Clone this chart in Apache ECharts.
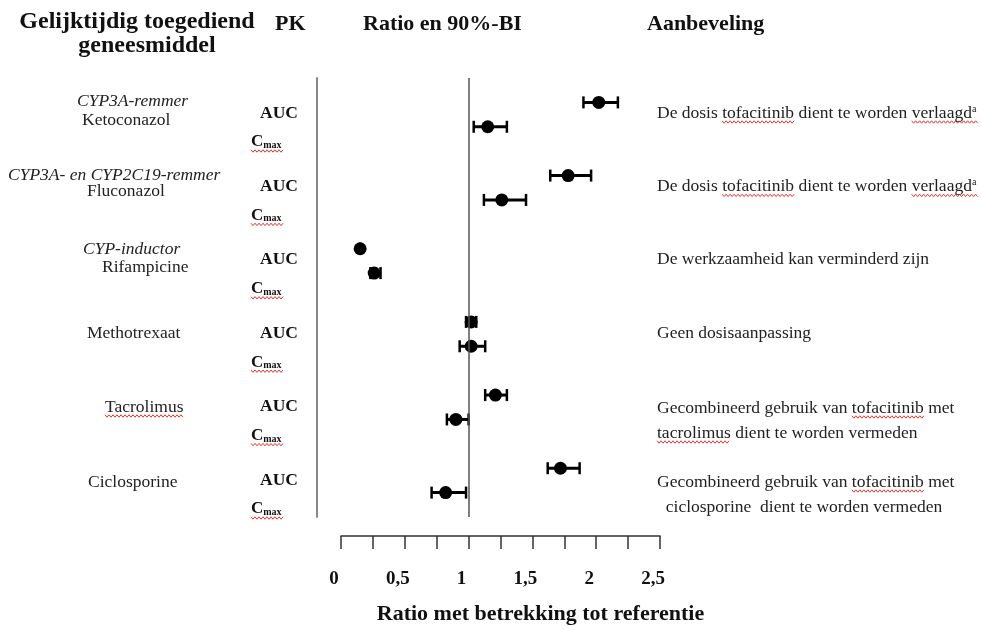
<!DOCTYPE html>
<html><head><meta charset="utf-8">
<script src="https://cdn.jsdelivr.net/npm/echarts@6/dist/echarts.min.js"></script>
<style>html,body{margin:0;padding:0;background:#fff}#c{width:981px;height:630px}</style>
</head><body><div id="c"></div>
<script>
// ---- data ----
const drugs = ['Ketoconazol', 'Fluconazol', 'Rifampicine', 'Methotrexaat', 'Tacrolimus', 'Ciclosporine'];
const drugClass = ['CYP3A-remmer', 'CYP3A- en CYP2C19-remmer', 'CYP-inductor', '', '', ''];
const pkParams = ['AUC', 'Cmax'];
const aucRatio = [2.02, 1.78, 0.15, 1.02, 1.21, 1.72];
const aucLow   = [1.90, 1.64, 0.15, 0.98, 1.13, 1.62];
const aucHigh  = [2.17, 1.96, 0.15, 1.06, 1.30, 1.87];
const cmaxRatio = [1.15, 1.26, 0.26, 1.02, 0.90, 0.82];
const cmaxLow   = [1.04, 1.12, 0.23, 0.93, 0.83, 0.71];
const cmaxHigh  = [1.30, 1.45, 0.31, 1.13, 1.00, 0.98];
const xTicks = [0, 0.5, 1, 1.5, 2, 2.5];
const advice = [
  ['De dosis tofacitinib dient te worden verlaagd{sup|a}'],
  ['De dosis tofacitinib dient te worden verlaagd{sup|a}'],
  ['De werkzaamheid kan verminderd zijn'],
  ['Geen dosisaanpassing'],
  ['Gecombineerd gebruik van tofacitinib met', 'tacrolimus dient te worden vermeden'],
  ['Gecombineerd gebruik van tofacitinib met', '  ciclosporine  dient te worden vermeden']
];
const flaggedWords = ['tofacitinib', 'verlaagd', 'tacrolimus'];

// ---- build ----
const SERIF = '"Liberation Serif", "Times New Roman", serif';
const BODY = 17.5;
const points = [], bars = [];
drugs.forEach((d, g) => {
  points.push([aucRatio[g], 3 * g]);
  points.push([cmaxRatio[g], 3 * g + 1]);
  bars.push([aucLow[g], aucHigh[g], 3 * g]);
  bars.push([cmaxLow[g], cmaxHigh[g], 3 * g + 1]);
});

const ctx = document.createElement('canvas').getContext('2d');
function tw(s, font) { ctx.font = font; return ctx.measureText(s).width; }
const graphics = [];
function raw(x, y, text, style) {
  graphics.push({type: 'text', x: x, y: y, silent: true, z: 10,
    style: Object.assign({text: text, fontFamily: SERIF, fontSize: BODY, fill: '#222', verticalAlign: 'middle', align: 'left'}, style || {})});
}
function wavy(x1, x2, y) {
  const pts = [];
  for (let x = x1, i = 0; x <= x2 + 0.1; x += 2, i++) pts.push([x, y + (i % 2 ? 1.2 : -1.2)]);
  graphics.push({type: 'polyline', silent: true, z: 9, shape: {points: pts}, style: {stroke: '#e8322c', lineWidth: 1, fill: null}});
}
function flag(x, y, line) {
  const font = BODY + 'px ' + SERIF;
  const plain = line.replace('{sup|a}', '');
  flaggedWords.forEach(w => {
    const idx = plain.indexOf(w);
    if (idx < 0) return;
    const x1 = x + tw(plain.slice(0, idx), font);
    let x2 = x1 + tw(w, font);
    if (line.indexOf(w + '{sup|a}') >= 0) x2 += 6;
    wavy(x1, x2, y + 9);
  });
}
const GROUP_Y = [0, 73.4, 146.8, 220.2, 293.6, 367];

// headers
raw(137, 22, 'Gelijktijdig toegediend', {fontWeight: 'bold', fontSize: 24, align: 'center', fill: '#111'});
raw(147, 46, 'geneesmiddel', {fontWeight: 'bold', fontSize: 24, align: 'center', fill: '#111'});
raw(275, 24, 'PK', {fontWeight: 'bold', fontSize: 22, fill: '#111'});
raw(363, 24, 'Ratio en 90%-BI', {fontWeight: 'bold', fontSize: 22, fill: '#111'});
raw(647, 24, 'Aanbeveling', {fontWeight: 'bold', fontSize: 22, fill: '#111'});

// left labels
const classPos = [[77, 101], [8, 175], [83, 249]];
const drugPos = [[82, 120], [87, 191], [102, 267], [87, 333], [105, 407], [88, 482]];
drugs.forEach((d, g) => {
  if (drugClass[g]) raw(classPos[g][0], classPos[g][1], drugClass[g], {fontStyle: 'italic'});
  raw(drugPos[g][0], drugPos[g][1], d);
  if (d === 'Tacrolimus') wavy(drugPos[g][0], drugPos[g][0] + tw(d, BODY + 'px ' + SERIF), drugPos[g][1] + 9);
  const yA = 113 + GROUP_Y[g];
  const yC = 142 + GROUP_Y[g];
  raw(298, yA, pkParams[0], {fontWeight: 'bold', align: 'right', fill: '#111'});
  raw(251, yC, '{c|C}{s|max}', {rich: {c: {fontFamily: SERIF, fontSize: 17, fontWeight: 'bold', fill: '#111'},
    s: {fontFamily: SERIF, fontSize: 10, fontWeight: 'bold', fill: '#111', verticalAlign: 'bottom', padding: [6, 0, 0, 0]}}});
  wavy(251, 284, yC + 9);
  // advice
  const ay = g === 4 ? 408 : g === 5 ? 482 : 113 + GROUP_Y[g];
  advice[g].forEach((line, li) => {
    raw(657, ay + li * 25, line, {rich: {sup: {fontFamily: SERIF, fontSize: 10, fill: '#222', verticalAlign: 'top', padding: [0, 0, 8, 0]}}});
    flag(657, ay + li * 25, line);
  });
});

const chart = echarts.init(document.getElementById('c'));
chart.setOption({
  animation: false,
  backgroundColor: '#fff',
  grid: {left: 341, right: 321, top: 78, height: 440},
  xAxis: {
    type: 'value', min: 0, max: 2.5, interval: 0.25, offset: 19,
    axisLine: {show: true, onZero: false, lineStyle: {color: '#333', width: 1.5}},
    axisTick: {show: true, length: 13, lineStyle: {color: '#333', width: 1.5}},
    splitLine: {show: false},
    axisLabel: {
      margin: 34, padding: [0, 14, 0, 0],
      fontFamily: SERIF, fontWeight: 'bold', fontSize: 19, color: '#111',
      formatter: v => xTicks.indexOf(v) >= 0 ? String(v).replace('.', ',') : ''
    },
    name: 'Ratio met betrekking tot referentie', nameLocation: 'middle', nameGap: 67,
    nameTextStyle: {fontFamily: SERIF, fontWeight: 'bold', fontSize: 22, color: '#111', padding: [0, 0, 0, 80]}
  },
  yAxis: {
    type: 'value', min: -1, max: 17, inverse: true, offset: 24,
    axisLine: {show: true, onZero: false, lineStyle: {color: '#888', width: 2}},
    axisTick: {show: false}, axisLabel: {show: false}, splitLine: {show: false}
  },
  series: [
    {
      type: 'custom', data: bars, encode: {x: [0, 1], y: 2}, silent: true, z: 2,
      renderItem: (params, api) => {
        const y = api.value(2);
        const a = api.coord([api.value(0), y]);
        const b = api.coord([api.value(1), y]);
        const h = 6;
        return {type: 'group', children: [
          {type: 'line', shape: {x1: a[0], y1: a[1], x2: b[0], y2: b[1]}, style: {stroke: '#000', lineWidth: 3}},
          {type: 'line', shape: {x1: a[0], y1: a[1] - h, x2: a[0], y2: a[1] + h}, style: {stroke: '#000', lineWidth: 2.5}},
          {type: 'line', shape: {x1: b[0], y1: b[1] - h, x2: b[0], y2: b[1] + h}, style: {stroke: '#000', lineWidth: 2.5}}
        ]};
      }
    },
    {
      type: 'scatter', data: points, symbol: 'circle', symbolSize: 13, z: 3, silent: true,
      itemStyle: {color: '#000', opacity: 1},
      markLine: {silent: true, symbol: 'none', label: {show: false},
        lineStyle: {color: '#555', width: 1.5, type: 'solid'}, data: [{xAxis: 1}]}
    }
  ],
  graphic: graphics
});
</script></body></html>
